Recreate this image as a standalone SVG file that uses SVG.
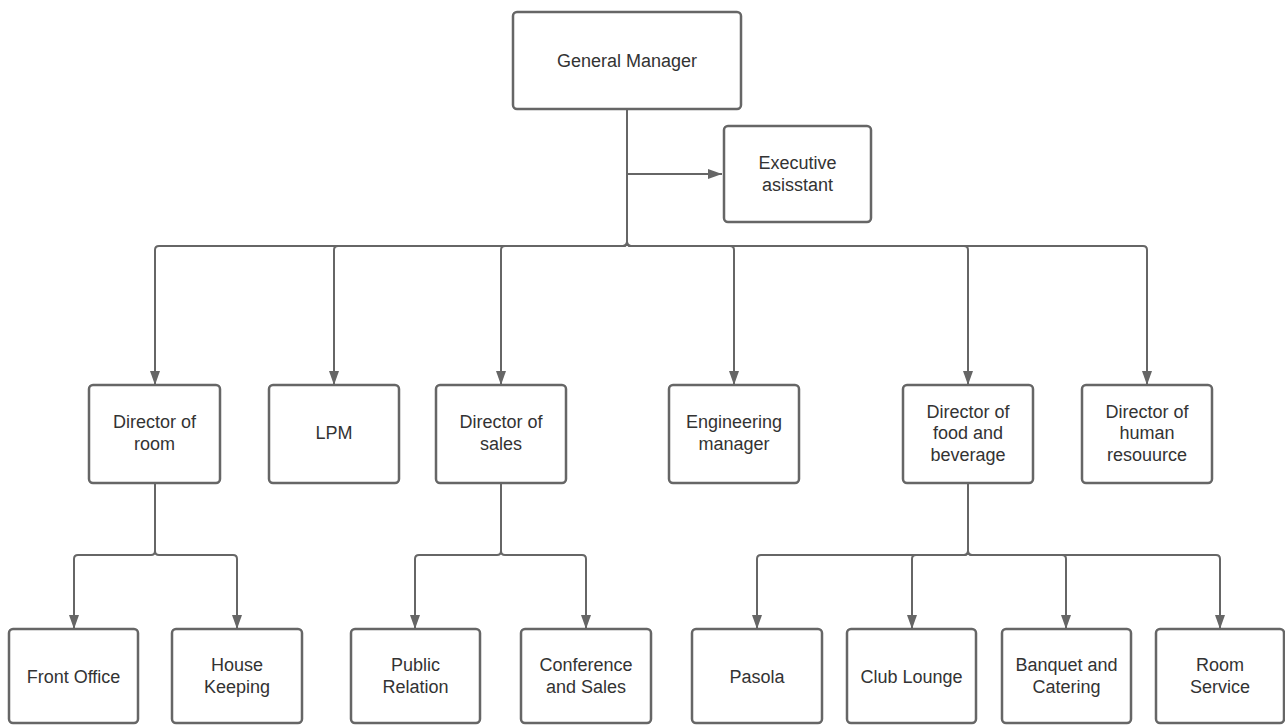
<svg xmlns="http://www.w3.org/2000/svg" width="1285" height="725" viewBox="0 0 1285 725">
<style>
.box{fill:#ffffff;stroke:#666666;stroke-width:2.5}
.lbl{font-family:"Liberation Sans",Arial,sans-serif;font-size:18px;fill:#333333;text-anchor:middle}
.con{fill:none;stroke:#666666;stroke-width:2}
</style>
<defs>
<marker id="arr" viewBox="0 0 14 10" refX="14" refY="5" markerWidth="14" markerHeight="10" orient="auto" markerUnits="userSpaceOnUse">
<path d="M0,0 L14,5 L0,10 z" fill="#666666"/>
</marker>
</defs>
<rect width="1285" height="725" fill="#ffffff"/>
<g id="connectors">
<path class="con" marker-end="url(#arr)" d="M627,109 V174 H722"/>
<path class="con" marker-end="url(#arr)" d="M627,109 V242 Q627,246 623,246 H159 Q155,246 155,250 V385"/>
<path class="con" marker-end="url(#arr)" d="M627,109 V242 Q627,246 623,246 H338 Q334,246 334,250 V385"/>
<path class="con" marker-end="url(#arr)" d="M627,109 V242 Q627,246 623,246 H505 Q501,246 501,250 V385"/>
<path class="con" marker-end="url(#arr)" d="M627,109 V242 Q627,246 631,246 H730 Q734,246 734,250 V385"/>
<path class="con" marker-end="url(#arr)" d="M627,109 V242 Q627,246 631,246 H964 Q968,246 968,250 V385"/>
<path class="con" marker-end="url(#arr)" d="M627,109 V242 Q627,246 631,246 H1143 Q1147,246 1147,250 V385"/>
<path class="con" marker-end="url(#arr)" d="M155,483 V551 Q155,555 151,555 H78 Q74,555 74,559 V629"/>
<path class="con" marker-end="url(#arr)" d="M155,483 V551 Q155,555 159,555 H233 Q237,555 237,559 V629"/>
<path class="con" marker-end="url(#arr)" d="M501,483 V551 Q501,555 497,555 H419 Q415,555 415,559 V629"/>
<path class="con" marker-end="url(#arr)" d="M501,483 V551 Q501,555 505,555 H582 Q586,555 586,559 V629"/>
<path class="con" marker-end="url(#arr)" d="M968,483 V551 Q968,555 964,555 H761 Q757,555 757,559 V629"/>
<path class="con" marker-end="url(#arr)" d="M968,483 V551 Q968,555 964,555 H916 Q912,555 912,559 V629"/>
<path class="con" marker-end="url(#arr)" d="M968,483 V551 Q968,555 972,555 H1062 Q1066,555 1066,559 V629"/>
<path class="con" marker-end="url(#arr)" d="M968,483 V551 Q968,555 972,555 H1216 Q1220,555 1220,559 V629"/>
</g>
<g id="gm"><rect class="box" x="513" y="12" width="228" height="97" rx="4"/><text class="lbl" x="627" y="66.5">General Manager</text></g>
<g id="exec"><rect class="box" x="724" y="126" width="147" height="96" rx="4"/><text class="lbl" x="797.5" y="169">Executive</text><text class="lbl" x="797.5" y="190.5">asisstant</text></g>
<g id="dir-room"><rect class="box" x="89" y="385" width="131" height="98" rx="4"/><text class="lbl" x="154.5" y="428">Director of</text><text class="lbl" x="154.5" y="449.5">room</text></g>
<g id="lpm"><rect class="box" x="269" y="385" width="130" height="98" rx="4"/><text class="lbl" x="334" y="439">LPM</text></g>
<g id="dir-sales"><rect class="box" x="436" y="385" width="130" height="98" rx="4"/><text class="lbl" x="501" y="428">Director of</text><text class="lbl" x="501" y="449.5">sales</text></g>
<g id="eng"><rect class="box" x="669" y="385" width="130" height="98" rx="4"/><text class="lbl" x="734" y="428">Engineering</text><text class="lbl" x="734" y="449.5">manager</text></g>
<g id="dir-fb"><rect class="box" x="903" y="385" width="130" height="98" rx="4"/><text class="lbl" x="968" y="417.5">Director of</text><text class="lbl" x="968" y="439">food and</text><text class="lbl" x="968" y="460.5">beverage</text></g>
<g id="dir-hr"><rect class="box" x="1082" y="385" width="130" height="98" rx="4"/><text class="lbl" x="1147" y="417.5">Director of</text><text class="lbl" x="1147" y="439">human</text><text class="lbl" x="1147" y="460.5">resouurce</text></g>
<g id="front-office"><rect class="box" x="9" y="629" width="129" height="94" rx="4"/><text class="lbl" x="73.5" y="682.5">Front Office</text></g>
<g id="housekeeping"><rect class="box" x="172" y="629" width="130" height="94" rx="4"/><text class="lbl" x="237" y="671">House</text><text class="lbl" x="237" y="692.5">Keeping</text></g>
<g id="public-relation"><rect class="box" x="351" y="629" width="129" height="94" rx="4"/><text class="lbl" x="415.5" y="671">Public</text><text class="lbl" x="415.5" y="692.5">Relation</text></g>
<g id="conference"><rect class="box" x="521" y="629" width="130" height="94" rx="4"/><text class="lbl" x="586" y="671">Conference</text><text class="lbl" x="586" y="692.5">and Sales</text></g>
<g id="pasola"><rect class="box" x="692" y="629" width="130" height="94" rx="4"/><text class="lbl" x="757" y="682.5">Pasola</text></g>
<g id="club-lounge"><rect class="box" x="847" y="629" width="129" height="94" rx="4"/><text class="lbl" x="911.5" y="682.5">Club Lounge</text></g>
<g id="banquet"><rect class="box" x="1002" y="629" width="129" height="94" rx="4"/><text class="lbl" x="1066.5" y="671">Banquet and</text><text class="lbl" x="1066.5" y="692.5">Catering</text></g>
<g id="room-service"><rect class="box" x="1156" y="629" width="128" height="94" rx="4"/><text class="lbl" x="1220" y="671">Room</text><text class="lbl" x="1220" y="692.5">Service</text></g>
</svg>
